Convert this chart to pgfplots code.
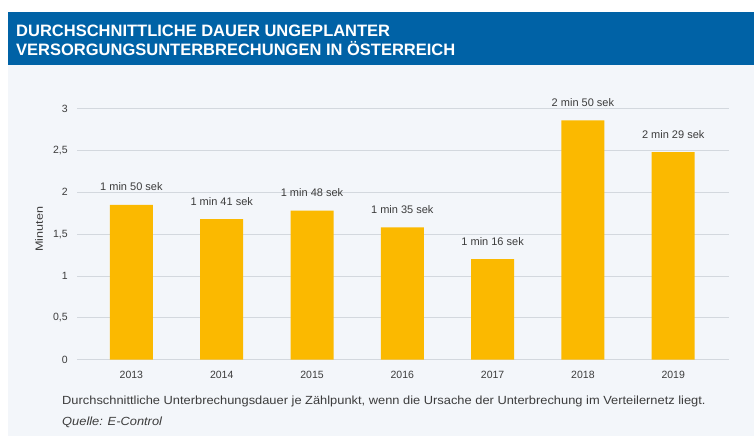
\documentclass[border=0pt]{standalone}
\usepackage{fontspec}
\setmainfont{Liberation Sans}
\usepackage{graphicx}
\usepackage{pgfplots}
\usepackage{pgfplotstable}
\pgfplotsset{compat=1.18}
\definecolor{hdrblue}{HTML}{0062A6}
\definecolor{panel}{HTML}{F3F6FA}
\definecolor{barcol}{HTML}{FBB900}
\definecolor{gridcol}{HTML}{D3D8DE}
\definecolor{txt}{HTML}{3C3C3C}

\pgfplotstableread[col sep=comma]{
x,y,label
0,1.85,1 min 50 sek
1,1.68,1 min 41 sek
2,1.78,1 min 48 sek
3,1.58,1 min 35 sek
4,1.20,1 min 16 sek
5,2.86,2 min 50 sek
6,2.48,2 min 29 sek
}\data

\begin{document}
\begin{tikzpicture}[x=1pt,y=1pt]
\useasboundingbox (0,0) rectangle (754,436);
\fill[white] (0,0) rectangle (754,436);
\fill[panel] (7.5,0) rectangle (754,371);
\fill[hdrblue] (7.5,371) rectangle (754,423.7);
\node[anchor=base west, text=white, inner sep=0pt, font=\fontsize{16.5}{18}\selectfont\bfseries] at (16,399.5) {DURCHSCHNITTLICHE DAUER UNGEPLANTER};
\node[anchor=base west, text=white, inner sep=0pt, font=\fontsize{16.5}{18}\selectfont\bfseries] at (16,380.3) {VERSORGUNGSUNTERBRECHUNGEN IN ÖSTERREICH};
\node[anchor=base west, text=txt, inner sep=0pt, font=\fontsize{11.8}{13}\selectfont] at (62,31) {\scalebox{1.09}[1]{Durchschnittliche Unterbrechungsdauer je Zählpunkt, wenn die Ursache der Unterbrechung im Verteilernetz liegt.}};
\node[anchor=base west, text=txt, inner sep=0pt, font=\fontsize{11.8}{13}\selectfont\itshape] at (62,10.5) {\scalebox{1.09}[1]{Quelle: E-Control}};
\begin{axis}[
  at={(85.5,91.3)}, anchor=south west,
  scale only axis, width=652pt, height=251pt,
  xmin=-0.6, xmax=6.62, ymin=0, ymax=3,
  xtick={0,...,6},
  xticklabels={2013,2014,2015,2016,2017,2018,2019},
  ytick={0,0.5,...,3},
  /pgf/number format/use comma,
  /pgf/number format/assume math mode=true,
  axis line style={draw=none},
  major tick length=0pt,
  ymajorgrids, grid style={gridcol, line width=0.8pt},
  tick label style={text=txt, font=\fontsize{10.5}{12}\selectfont},
  xticklabel style={yshift=-8pt},
  yticklabel style={xshift=-6pt},
  ylabel={\scalebox{1.2}[1]{Minuten}},
  ylabel style={at={(axis description cs:-0.0583,0.52)}, anchor=center, text=txt, font=\fontsize{10.5}{12}\selectfont},
  clip=false,
]
\addplot[ybar, bar width=43pt, fill=barcol, draw=none,
  point meta=explicit symbolic,
  nodes near coords,
  every node near coord/.append style={anchor=base, yshift=14pt, text=txt, font=\fontsize{11}{12}\selectfont, inner sep=0pt}]
  table[x=x, y=y, meta=label]{\data};
\end{axis}
\end{tikzpicture}
\end{document}
